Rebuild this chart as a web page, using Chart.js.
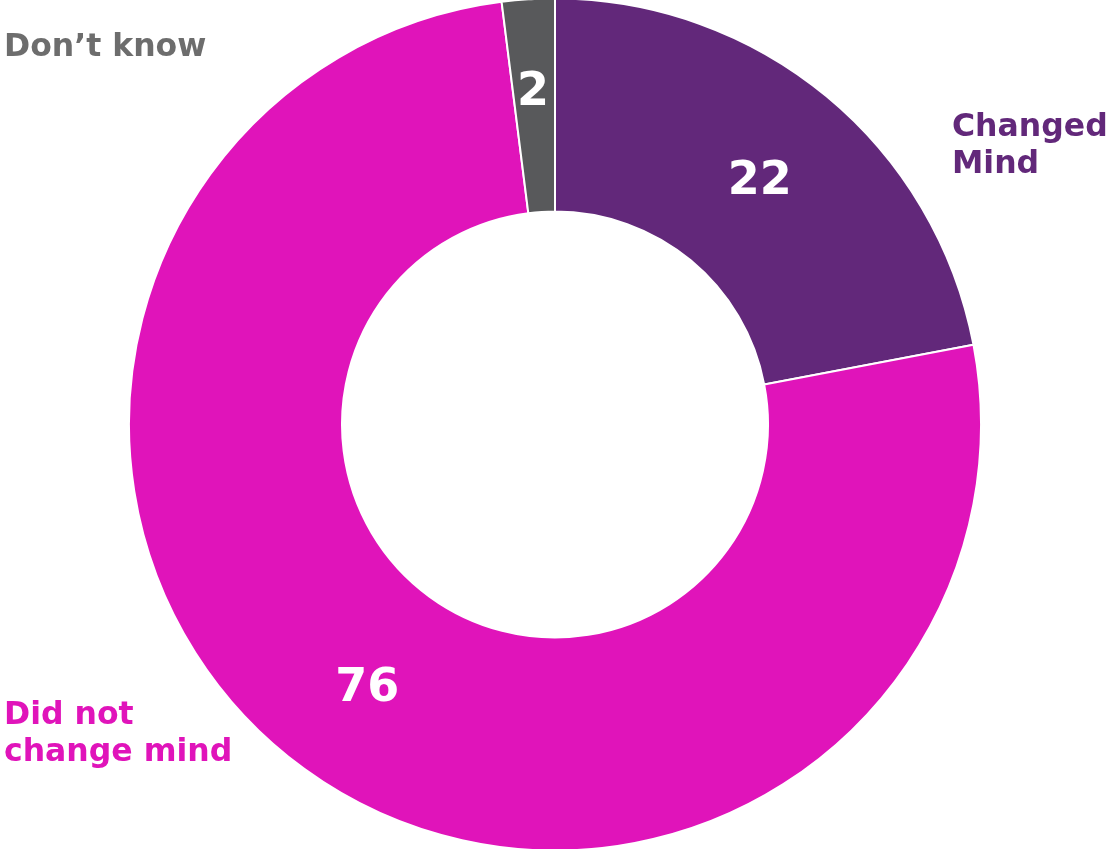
<!DOCTYPE html>
<html>
<head>
<meta charset="utf-8">
<script src="https://cdn.jsdelivr.net/npm/chart.js@4"></script>
<style>
html,body{margin:0;padding:0;background:#fff;}
#wrap{width:1107px;height:849px;position:relative;}
</style>
</head>
<body>
<div id="wrap"><canvas id="c" width="1107" height="849"></canvas></div>
<script>
const categories = ["Changed Mind", "Did not change mind", "Don\u2019t know"];
const values = [22, 76, 2];
const sliceColors = ["#62287A", "#E014BA", "#58595B"];
const labelColors = ["#62287A", "#E014BA", "#6D6D6D"];
const labelLines = [["Changed", "Mind"], ["Did not", "change mind"], ["Don\u2019t know"]];

const FONT = "'DejaVu Sans', Verdana, sans-serif";

const labelPlugin = {
  id: 'labels',
  afterDatasetsDraw(chart) {
    const ctx = chart.ctx;
    const meta = chart.getDatasetMeta(0);
    const ca = chart.chartArea;
    ctx.save();
    // value labels inside slices
    ctx.font = "bold 46px " + FONT;
    ctx.fillStyle = "#ffffff";
    ctx.textAlign = "center";
    ctx.textBaseline = "middle";
    const nudges = [[1, 4], [0, 6], [-2, -13]];
    meta.data.forEach((arc, i) => {
      const p = arc.tooltipPosition();
      ctx.fillText(String(values[i]), p.x + nudges[i][0], p.y + nudges[i][1]);
    });
    // category labels
    ctx.font = "bold 31.5px " + FONT;
    ctx.textAlign = "left";
    ctx.textBaseline = "alphabetic";
    const lh = 37;
    const anchors = [
      [ca.right - 28, 136],
      [4, 724],
      [4, 56]
    ];
    labelLines.forEach((lines, i) => {
      ctx.fillStyle = labelColors[i];
      lines.forEach((t, j) => {
        ctx.fillText(t, anchors[i][0], anchors[i][1] + j * lh);
      });
    });
    ctx.restore();
  }
};

new Chart(document.getElementById('c'), {
  type: 'doughnut',
  data: {
    labels: categories,
    datasets: [{
      data: values,
      backgroundColor: sliceColors,
      borderColor: '#ffffff',
      borderWidth: 2,
      hoverOffset: 0
    }]
  },
  options: {
    responsive: false,
    animation: false,
    cutout: '50%',
    radius: 426,
    layout: { padding: { left: 130, right: 127, top: 0, bottom: 0 } },
    plugins: {
      legend: { display: false },
      tooltip: { enabled: false }
    }
  },
  plugins: [labelPlugin]
});
</script>
</body>
</html>
